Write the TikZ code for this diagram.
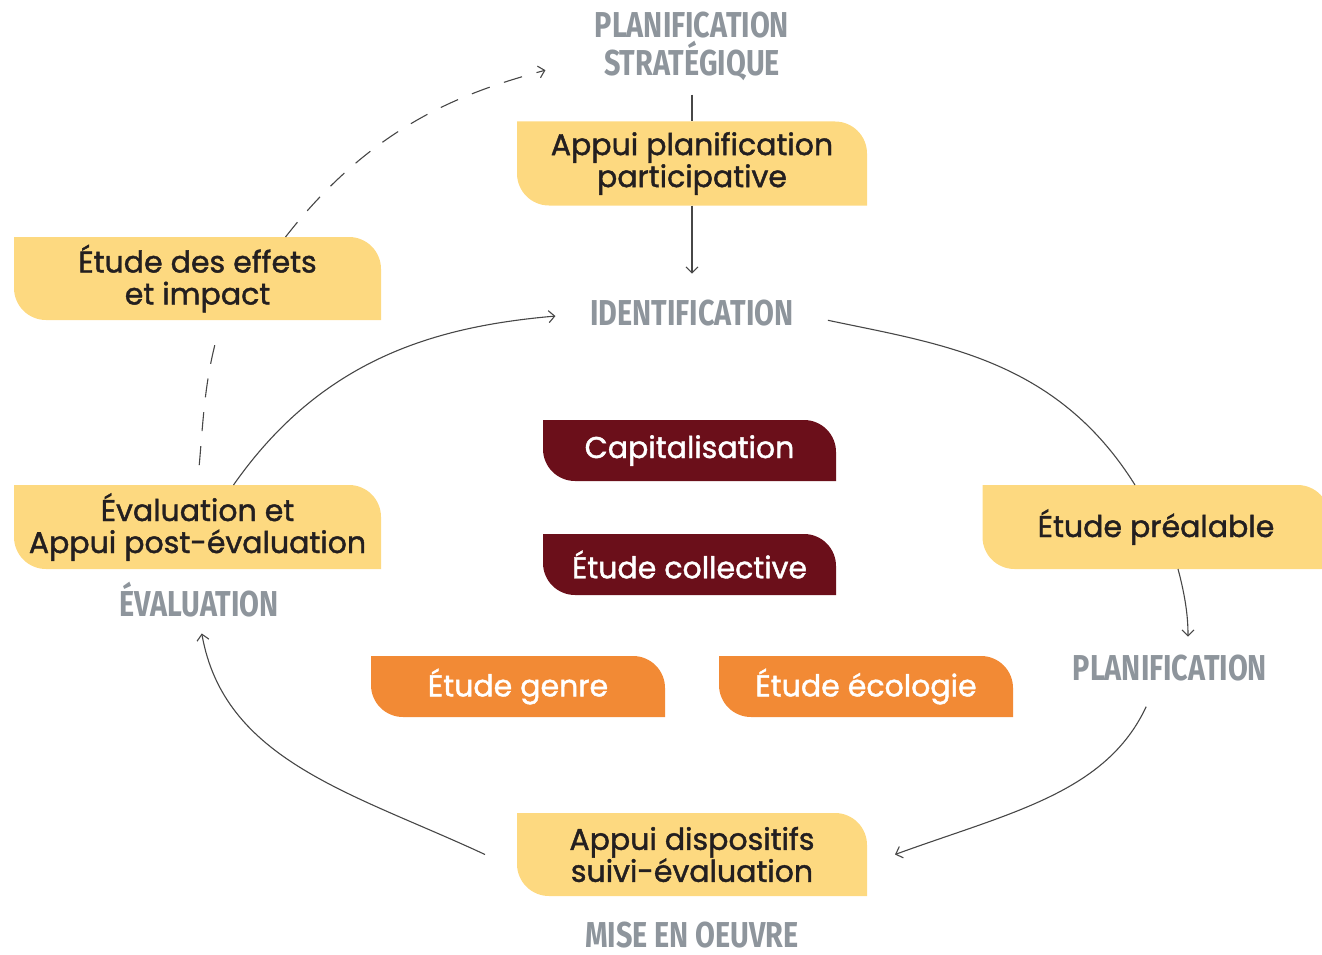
\documentclass[tikz,border=0pt]{standalone}
\usepackage{fontspec}
\setmainfont{Poppins}[FakeBold=1.4]
\newfontfamily\stagefont[FakeStretch=0.8]{Fira Sans}
\usetikzlibrary{arrows.meta,positioning,backgrounds}

\definecolor{leafyellow}{HTML}{FDD980}
\definecolor{leafred}{HTML}{6B0F1A}
\definecolor{leaforange}{HTML}{F28A35}
\definecolor{stagegray}{HTML}{8E959C}
\definecolor{linegray}{HTML}{474747}
\definecolor{inkdark}{HTML}{231F20}
\newcommand{\leafr}{32pt}

\tikzset{
  leaf/.style={minimum width=350pt, minimum height=84pt, inner sep=0pt, outer sep=0pt,
    align=center, text=inkdark, font=\fontsize{30}{32}\selectfont},
  darkleaf/.style={leaf, minimum width=293pt, minimum height=61pt, text=white},
  stage/.style={inner sep=0pt, align=center, text=stagegray,
    font=\stagefont\bfseries\fontsize{36}{38}\selectfont},
  conn/.style={draw=linegray, line width=1.1pt},
  tip/.style={-{Straight Barb[length=6pt,width=12pt]}},
  dashconn/.style={conn, dash pattern=on 19pt off 15pt}
}

\begin{document}
\begin{tikzpicture}[x=1pt,y=1pt]
  \useasboundingbox (0,0) rectangle (1322,-955);

  % Stages of the cycle
  \node[stage] (strat) at (692,-46) {PLANIFICATION\\STRATÉGIQUE};
  \node[stage] (ident) at (692,-313) {IDENTIFICATION};
  \node[stage] (planif) at (1170,-668) {PLANIFICATION};
  \node[stage] (mise) at (692,-935) {MISE EN OEUVRE};
  \node[stage] (evalstage) at (199,-600) {ÉVALUATION};

  % Support boxes round the cycle
  \node[leaf] (appuiplan) at (692,-163.5) {Appui planification\\participative};
  \node[leaf, minimum width=367pt, minimum height=83pt] (effets) at (197.5,-278.5) {Étude des effets\\et impact};
  \node[leaf, minimum width=367pt] (evalbox) at (197.5,-527) {Évaluation et\\Appui post-évaluation};
  \node[leaf, minimum width=347pt] (prealable) at (1156,-527) {Étude préalable};
  \node[leaf, minimum height=83pt] (suivi) at (692,-854.5) {Appui dispositifs\\suivi-évaluation};

  % Transversal studies
  \node[darkleaf] (capital) at (689.5,-450.5) {Capitalisation};
  \node[darkleaf] (collect) at (689.5,-564.5) {Étude collective};
  \node[darkleaf, minimum width=294pt] (genre) at (518,-686.5) {Étude genre};
  \node[darkleaf, minimum width=294pt] (ecolo) at (866,-686.5) {Étude écologie};

  % Leaf shapes behind the texts
  \begin{scope}[on background layer]
    \foreach \n/\c in {appuiplan/leafyellow, effets/leafyellow, evalbox/leafyellow,
        prealable/leafyellow, suivi/leafyellow, capital/leafred, collect/leafred,
        genre/leaforange, ecolo/leaforange} {
      \fill[\c] (\n.north west) -- ([xshift=-\leafr]\n.north east)
        arc[start angle=90, end angle=0, radius=\leafr] -- (\n.south east)
        -- ([xshift=\leafr]\n.south west)
        arc[start angle=270, end angle=180, radius=\leafr] -- cycle;
    }
  \end{scope}

  % Top branch
  \draw[conn, shorten <=14pt] (strat) -- (appuiplan);
  \draw[conn, tip, shorten >=26pt] (appuiplan) -- (ident);

  % Main cycle
  \draw[conn, tip, shorten >=35pt] ([xshift=36pt]evalbox.north) to[out=55, in=185] (ident.west);
  \draw[conn, shorten <=35pt] (ident.east) to[out=-12, in=122] ([xshift=-21pt]prealable.north);
  \draw[conn, tip, shorten >=18pt] ([xshift=22pt]prealable.south) to[out=-75, in=90] ([xshift=18pt]planif.north);
  \draw[conn, tip, shorten <=28pt] ([xshift=-12pt]planif.south) to[out=-115, in=20] ([xshift=28pt]suivi.east);
  \draw[conn, tip, shorten >=16pt] ([xshift=-32pt]suivi.west) to[out=155, in=-80] (evalstage.south);

  % Feedback towards strategic planning
  \draw[dashconn, shorten <=20pt, shorten >=20pt] (evalbox.north) to[out=85, in=-105] ([xshift=24pt]effets.south);
  \draw[dashconn, tip, shorten >=51pt] ([xshift=88pt]effets.north) to[out=52, in=195] ([yshift=-11pt]strat.west);
\end{tikzpicture}
\end{document}
